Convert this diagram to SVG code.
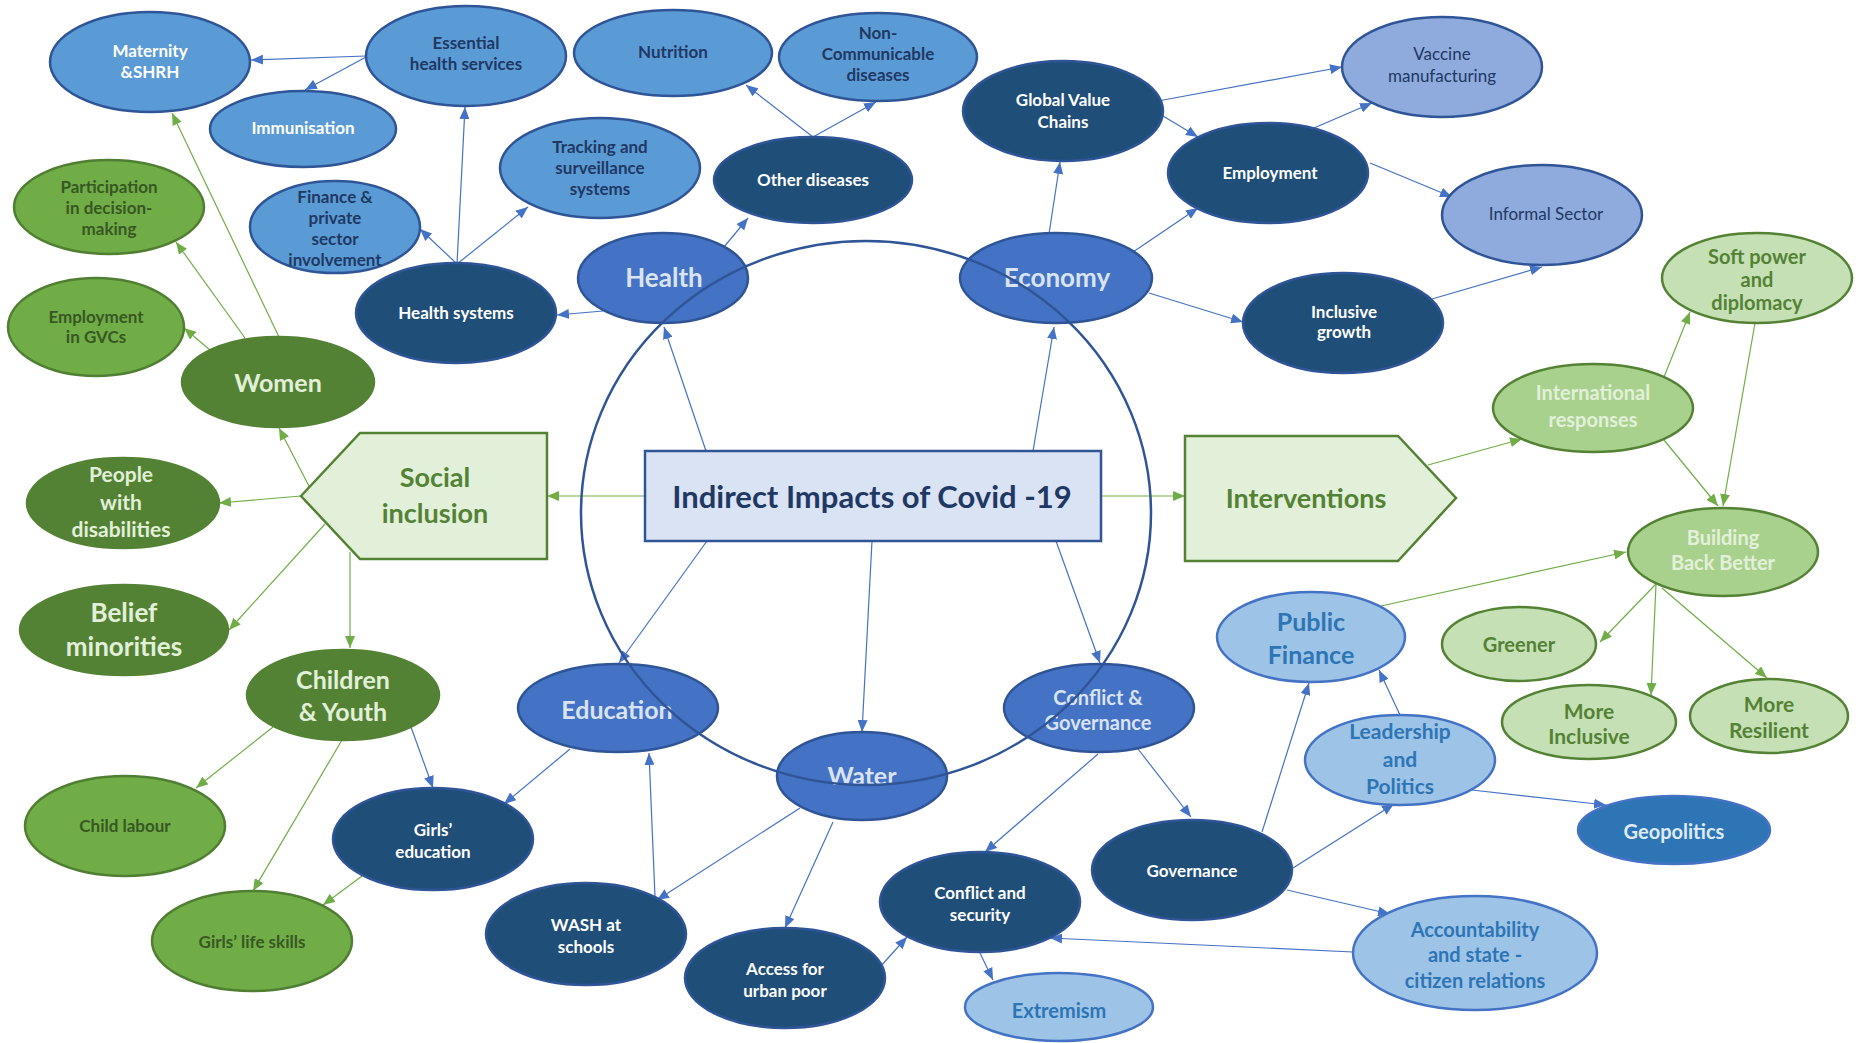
<svg xmlns="http://www.w3.org/2000/svg" width="1860" height="1043" viewBox="0 0 1860 1043">
<defs>
<style>
text{font-family:Lato,"Open Sans","Liberation Sans",sans-serif;font-weight:700;text-anchor:middle}
.mid{fill:#4472C4;stroke:#2F5597;stroke-width:2.5}
.dark{fill:#1F4E79;stroke:#2F5597;stroke-width:2.5}
.lb{fill:#5B9BD5;stroke:#2F5597;stroke-width:2.5}
.vac{fill:#8FAADC;stroke:#2F5597;stroke-width:2.5}
.pale{fill:#9DC3E6;stroke:#4472C4;stroke-width:2.5}
.geo{fill:#2E75B6;stroke:#4472C4;stroke-width:2.5}
.g1{fill:#70AD47;stroke:#507E32;stroke-width:2.5}
.g2{fill:#548235;stroke:#548235;stroke-width:2.5}
.g3{fill:#A9D18E;stroke:#548235;stroke-width:2.5}
.g4{fill:#C5E0B4;stroke:#548235;stroke-width:2.5}
.pent{fill:#E2F0D9;stroke:#548235;stroke-width:2.5}
.ctr{fill:#DAE3F3;stroke:#2F5597;stroke-width:2.5}
.tw{fill:#FFFFFF}
.tl{fill:#DAE3F3}
.tn{fill:#1F3864}
.tv{fill:#203864;font-weight:400}
.tp{fill:#2E75B6}
.tgd{fill:#385723}
.tgl{fill:#E2F0D9}
.tg{fill:#548235}
.s17{font-size:17px}
.s20{font-size:20px}
.s21{font-size:21px}
.s25{font-size:25px}
.s26{font-size:26px}
.s27{font-size:27px}
.cb{fill:none;stroke:#4472C4;stroke-width:1.2;marker-end:url(#ab)}
.cg{fill:none;stroke:#70AD47;stroke-width:1.2;marker-end:url(#ag)}
</style>
<marker id="ab" markerUnits="userSpaceOnUse" markerWidth="12" markerHeight="10" refX="12" refY="5" orient="auto"><path d="M0,0 L12,5 L0,10 z" fill="#4472C4"/></marker>
<marker id="ag" markerUnits="userSpaceOnUse" markerWidth="12" markerHeight="10" refX="12" refY="5" orient="auto"><path d="M0,0 L12,5 L0,10 z" fill="#70AD47"/></marker>
</defs>
<rect width="1860" height="1043" fill="#FFFFFF"/>
<g id="connectors">
<path class="cb" d="M366,56 L251,60"/>
<path class="cb" d="M366,57 L305,90"/>
<path class="cb" d="M457,264 L465,107"/>
<path class="cb" d="M457,264 L420,229"/>
<path class="cb" d="M457,264 L528,207"/>
<path class="cb" d="M603,311 L557,315"/>
<path class="cb" d="M724,247 L748,218"/>
<path class="cb" d="M813,137 L746,85"/>
<path class="cb" d="M813,137 L876,102"/>
<path class="cb" d="M706,451 L664,327"/>
<path class="cb" d="M1033,451 L1054,327"/>
<path class="cb" d="M1049,234 L1060,162"/>
<path class="cb" d="M1158,101 L1342,67"/>
<path class="cb" d="M1158,113 L1198,137"/>
<path class="cb" d="M1314,128 L1372,103"/>
<path class="cb" d="M1370,163 L1452,197"/>
<path class="cb" d="M1133,252 L1198,208"/>
<path class="cb" d="M1149,293 L1243,322"/>
<path class="cb" d="M1432,299 L1542,267"/>
<path class="cb" d="M411,727 L433,788"/>
<path class="cb" d="M570,749 L504,804"/>
<path class="cb" d="M707,541 L619,663"/>
<path class="cb" d="M872,541 L862,732"/>
<path class="cb" d="M1056,541 L1100,663"/>
<path class="cb" d="M655,897 L649,753"/>
<path class="cb" d="M800,808 L657,900"/>
<path class="cb" d="M833,822 L785,928"/>
<path class="cb" d="M880,967 L907,937"/>
<path class="cb" d="M1098,754 L985,852"/>
<path class="cb" d="M980,953 L993,980"/>
<path class="cb" d="M1353,952 L1050,938"/>
<path class="cb" d="M1138,749 L1191,817"/>
<path class="cb" d="M1262,832 L1309,683"/>
<path class="cb" d="M1400,715 L1379,670"/>
<path class="cb" d="M1293,868 L1394,804"/>
<path class="cb" d="M1287,890 L1390,914"/>
<path class="cb" d="M1472,790 L1606,805"/>
<path class="cg" d="M312,492 L279,428"/>
<path class="cg" d="M301,496 L219,503"/>
<path class="cg" d="M325,524 L229,630"/>
<path class="cg" d="M350,552 L350,648"/>
<path class="cg" d="M645,496 L547,496"/>
<path class="cg" d="M1101,496 L1185,496"/>
<path class="cg" d="M210,350 L184,328"/>
<path class="cg" d="M245,338 L176,242"/>
<path class="cg" d="M279,337 L172,113"/>
<path class="cg" d="M273,727 L196,788"/>
<path class="cg" d="M342,740 L253,891"/>
<path class="cg" d="M362,876 L323,905"/>
<path class="cg" d="M1428,465 L1522,439"/>
<path class="cg" d="M1664,377 L1690,312"/>
<path class="cg" d="M1755,323 L1723,506"/>
<path class="cg" d="M1664,440 L1718,506"/>
<path class="cg" d="M1381,606 L1626,552"/>
<path class="cg" d="M1656,584 L1600,642"/>
<path class="cg" d="M1656,584 L1651,695"/>
<path class="cg" d="M1662,588 L1767,678"/>
</g>
<g id="n-maternity"><ellipse class="lb" cx="150" cy="62" rx="100" ry="50"/><text class="s17 tw"><tspan x="150" y="56.5">Maternity</tspan><tspan x="150" y="77.5">&amp;SHRH</tspan></text></g>
<g id="n-essential"><ellipse class="lb" cx="466" cy="56" rx="100" ry="50"/><text class="s17 tn"><tspan x="466" y="48.5">Essential</tspan><tspan x="466" y="69.5">health services</tspan></text></g>
<g id="n-immunisation"><ellipse class="lb" cx="303" cy="129" rx="93" ry="38"/><text class="s17 tw" x="303" y="134">Immunisation</text></g>
<g id="n-nutrition"><ellipse class="lb" cx="673" cy="53" rx="99" ry="43"/><text class="s17 tn" x="673" y="58">Nutrition</text></g>
<g id="n-ncd"><ellipse class="lb" cx="878" cy="57" rx="99" ry="44"/><text class="s17 tn"><tspan x="878" y="39">Non-</tspan><tspan x="878" y="60">Communicable</tspan><tspan x="878" y="81">diseases</tspan></text></g>
<g id="n-tracking"><ellipse class="lb" cx="600" cy="168" rx="100" ry="50"/><text class="s17 tn"><tspan x="600" y="153">Tracking and</tspan><tspan x="600" y="174">surveillance</tspan><tspan x="600" y="195">systems</tspan></text></g>
<g id="n-finance"><ellipse class="lb" cx="335" cy="227" rx="85" ry="46"/><text class="s17 tn"><tspan x="335" y="202.5">Finance &amp;</tspan><tspan x="335" y="223.5">private</tspan><tspan x="335" y="244.5">sector</tspan><tspan x="335" y="265.5">involvement</tspan></text></g>
<g id="n-healthsys"><ellipse class="dark" cx="456" cy="313" rx="100" ry="50"/><text class="s17 tw" x="456" y="319">Health systems</text></g>
<g id="n-otherdis"><ellipse class="dark" cx="813" cy="180" rx="99" ry="43"/><text class="s17 tw" x="813" y="186">Other diseases</text></g>
<g id="n-gvc"><ellipse class="dark" cx="1063" cy="111" rx="100" ry="50"/><text class="s17 tw"><tspan x="1063" y="106">Global Value</tspan><tspan x="1063" y="128">Chains</tspan></text></g>
<g id="n-vaccine"><ellipse class="vac" cx="1442" cy="67" rx="100" ry="50"/><text class="s17 tv"><tspan x="1442" y="60">Vaccine</tspan><tspan x="1442" y="82">manufacturing</tspan></text></g>
<g id="n-employment"><ellipse class="dark" cx="1268" cy="173" rx="100" ry="50"/><text class="s17 tw" x="1270" y="179">Employment</text></g>
<g id="n-informal"><ellipse class="vac" cx="1542" cy="215" rx="100" ry="50"/><text class="s17 tv" x="1546" y="220">Informal Sector</text></g>
<g id="n-inclgrowth"><ellipse class="dark" cx="1343" cy="323" rx="100" ry="50"/><text class="s17 tw"><tspan x="1344" y="318">Inclusive</tspan><tspan x="1344" y="338">growth</tspan></text></g>
<g id="n-softpower"><ellipse class="g4" cx="1757" cy="278" rx="95" ry="45"/><text class="s20 tg"><tspan x="1757" y="264">Soft power</tspan><tspan x="1757" y="287">and</tspan><tspan x="1757" y="310">diplomacy</tspan></text></g>
<g id="n-intl"><ellipse class="g3" cx="1593" cy="408" rx="100" ry="44"/><text class="s20 tgl"><tspan x="1593" y="400">International</tspan><tspan x="1593" y="427">responses</tspan></text></g>
<g id="n-interventions"><polygon class="pent" points="1185,436 1398,436 1456,498 1398,561 1185,561"/><text class="s27 tg" x="1306" y="507.5">Interventions</text></g>
<g id="n-bbb"><ellipse class="g3" cx="1723" cy="552" rx="95" ry="44"/><text class="s20 tgl"><tspan x="1723" y="545">Building</tspan><tspan x="1723" y="570">Back Better</tspan></text></g>
<g id="n-greener"><ellipse class="g4" cx="1519" cy="644" rx="77" ry="37"/><text class="s20 tg" x="1519" y="652">Greener</text></g>
<g id="n-moreincl"><ellipse class="g4" cx="1589" cy="722" rx="87" ry="37"/><text class="s21 tg"><tspan x="1589" y="719">More</tspan><tspan x="1589" y="744">Inclusive</tspan></text></g>
<g id="n-moreres"><ellipse class="g4" cx="1769" cy="716" rx="79" ry="37"/><text class="s21 tg"><tspan x="1769" y="712">More</tspan><tspan x="1769" y="738">Resilient</tspan></text></g>
<g id="n-publicfin"><ellipse class="pale" cx="1311" cy="637" rx="94" ry="45"/><text class="s25 tp"><tspan x="1311" y="631">Public</tspan><tspan x="1311" y="664">Finance</tspan></text></g>
<g id="n-leadership"><ellipse class="pale" cx="1400" cy="760" rx="95" ry="45"/><text class="s21 tp"><tspan x="1400" y="739">Leadership</tspan><tspan x="1400" y="767">and</tspan><tspan x="1400" y="794">Politics</tspan></text></g>
<g id="n-geopolitics"><ellipse class="geo" cx="1674" cy="830" rx="96" ry="34"/><text class="s20" fill="#DEEBF7" x="1674" y="839">Geopolitics</text></g>
<g id="n-account"><ellipse class="pale" cx="1475" cy="953" rx="122" ry="57"/><text class="s20 tp"><tspan x="1475" y="937">Accountability</tspan><tspan x="1475" y="962">and state -</tspan><tspan x="1475" y="988">citizen relations</tspan></text></g>
<g id="n-governance"><ellipse class="dark" cx="1192" cy="870" rx="100" ry="50"/><text class="s17 tw" x="1192" y="877">Governance</text></g>
<g id="n-confsec"><ellipse class="dark" cx="980" cy="902" rx="100" ry="50"/><text class="s17 tw"><tspan x="980" y="899">Conflict and</tspan><tspan x="980" y="921">security</tspan></text></g>
<g id="n-extremism"><ellipse class="pale" cx="1059" cy="1007" rx="94" ry="34"/><text class="s20 tp" x="1059" y="1018">Extremism</text></g>
<g id="n-access"><ellipse class="dark" cx="785" cy="978" rx="100" ry="50"/><text class="s17 tw"><tspan x="785" y="975">Access for</tspan><tspan x="785" y="997">urban poor</tspan></text></g>
<g id="n-wash"><ellipse class="dark" cx="586" cy="934" rx="100" ry="51"/><text class="s17 tw"><tspan x="586" y="931">WASH at</tspan><tspan x="586" y="953">schools</tspan></text></g>
<g id="n-girlsedu"><ellipse class="dark" cx="433" cy="839" rx="100" ry="51"/><text class="s17 tw"><tspan x="433" y="836">Girls’</tspan><tspan x="433" y="858">education</tspan></text></g>
<g id="n-girlslife"><ellipse class="g1" cx="252" cy="941" rx="100" ry="50"/><text class="s17 tgd" x="252" y="948">Girls’ life skills</text></g>
<g id="n-childlabour"><ellipse class="g1" cx="125" cy="826" rx="100" ry="50"/><text class="s17 tgd" x="125" y="832">Child labour</text></g>
<g id="n-children"><ellipse class="g2" cx="343" cy="695" rx="96" ry="45"/><text class="s25 tgl"><tspan x="343" y="689">Children</tspan><tspan x="343" y="721">&amp; Youth</tspan></text></g>
<g id="n-belief"><ellipse class="g2" cx="124" cy="630" rx="104" ry="45"/><text class="s26 tgl"><tspan x="124" y="622">Belief</tspan><tspan x="124" y="656">minorities</tspan></text></g>
<g id="n-disab"><ellipse class="g2" cx="123" cy="503" rx="96" ry="45"/><text class="s21 tgl"><tspan x="121" y="482">People</tspan><tspan x="121" y="510">with</tspan><tspan x="121" y="537">disabilities</tspan></text></g>
<g id="n-social"><polygon class="pent" points="301,496 360,433 547,433 547,559 360,559"/><text class="s27 tg"><tspan x="435" y="486.5">Social</tspan><tspan x="435" y="522.5">inclusion</tspan></text></g>
<g id="n-women"><ellipse class="g2" cx="278" cy="382" rx="96" ry="45"/><text class="s25 tgl" x="278" y="392">Women</text></g>
<g id="n-employgvc"><ellipse class="g1" cx="96" cy="327" rx="88" ry="49"/><text class="s17 tgd"><tspan x="96" y="323">Employment</tspan><tspan x="96" y="343">in GVCs</tspan></text></g>
<g id="n-particip"><ellipse class="g1" cx="109" cy="207" rx="95" ry="47"/><text class="s17 tgd"><tspan x="109" y="193">Participation</tspan><tspan x="109" y="214">in decision-</tspan><tspan x="109" y="235">making</tspan></text></g>
<g id="n-center"><rect class="ctr" x="645" y="451" width="456" height="90"/><text class="tn" font-size="31" x="872" y="508">Indirect Impacts of Covid -19</text></g>
<g id="n-health"><ellipse class="mid" cx="663" cy="278" rx="85" ry="45"/><text class="s26 tl" x="664" y="287">Health</text></g>
<g id="n-economy"><ellipse class="mid" cx="1056" cy="278" rx="96" ry="45"/><text class="s26 tl" x="1057" y="287">Economy</text></g>
<g id="n-education"><ellipse class="mid" cx="618" cy="708" rx="100" ry="44"/><text class="s25 tl" x="617" y="719">Education</text></g>
<g id="n-water"><ellipse class="mid" cx="862" cy="776" rx="85" ry="44"/><text class="s25 tl" x="862" y="785">Water</text></g>
<g id="n-confgov"><ellipse class="mid" cx="1099" cy="708" rx="95" ry="44"/><text class="s20 tl"><tspan x="1098" y="705">Conflict &amp;</tspan><tspan x="1098" y="730">Governance</tspan></text></g>
<g id="impact-circle"><ellipse cx="866" cy="513" rx="285" ry="272" fill="none" stroke="#2F5597" stroke-width="2.5"/></g>
</svg>
